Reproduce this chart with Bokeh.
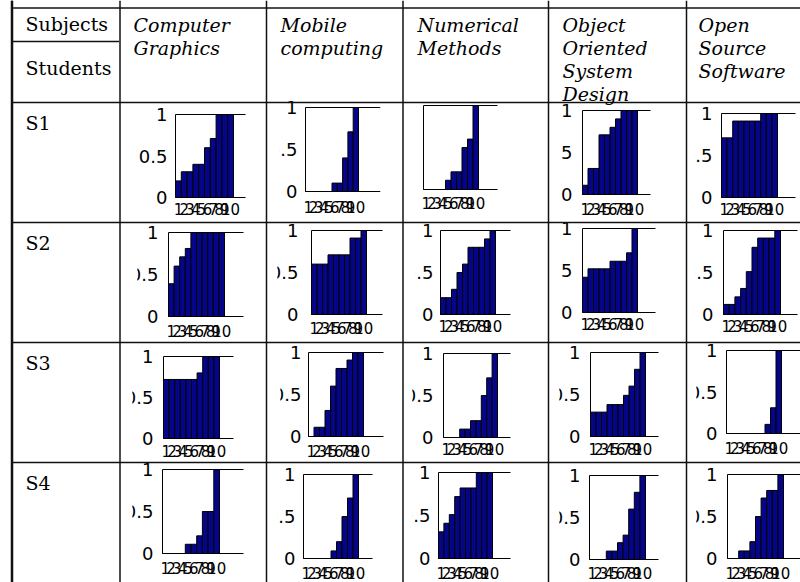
from bokeh.plotting import figure
from bokeh.models import Range1d
from bokeh.core.properties import value
from bokeh.embed import file_html
from bokeh.resources import INLINE

# ---------------- data ----------------
subjects = ["Computer Graphics", "Mobile computing", "Numerical Methods",
            "Object Oriented System Design", "Open Source Software"]
students = ["S1", "S2", "S3", "S4"]
x_ticks = [1, 2, 3, 4, 5, 6, 7, 8, 9, 10]
y_ticks = [0, 0.5, 1]
y_tick_labels = ["0", "0.5", "1"]

s1_cg = [0.2, 0.31, 0.31, 0.4, 0.4, 0.6, 0.71, 1, 1, 1]
s1_mc = [0, 0, 0, 0, 0, 0.1, 0.1, 0.4, 0.71, 1]
s1_nm = [0, 0, 0, 0, 0.11, 0.21, 0.21, 0.5, 0.6, 1]
s1_oosd = [0.11, 0.31, 0.31, 0.71, 0.71, 0.8, 0.9, 1, 1, 1]
s1_oss = [0.71, 0.71, 0.91, 0.91, 0.91, 0.91, 0.91, 1, 1, 1]

s2_cg = [0.39, 0.6, 0.71, 0.81, 1, 1, 1, 1, 1, 1]
s2_mc = [0.6, 0.6, 0.6, 0.71, 0.71, 0.71, 0.71, 0.91, 0.91, 1]
s2_nm = [0.2, 0.2, 0.3, 0.5, 0.6, 0.8, 0.8, 0.8, 0.9, 1]
s2_oosd = [0.42, 0.52, 0.52, 0.52, 0.52, 0.61, 0.61, 0.61, 0.71, 1]
s2_oss = [0.12, 0.12, 0.21, 0.31, 0.51, 0.8, 0.91, 0.91, 0.91, 1]

s3_cg = [0.72, 0.72, 0.72, 0.72, 0.72, 0.72, 0.8, 1, 1, 1]
s3_mc = [0, 0.11, 0.11, 0.31, 0.6, 0.81, 0.81, 0.91, 1, 1]
s3_nm = [0, 0, 0, 0.1, 0.1, 0.2, 0.2, 0.5, 0.71, 1]
s3_oosd = [0.29, 0.29, 0.29, 0.38, 0.38, 0.38, 0.49, 0.6, 0.8, 1]
s3_oss = [0, 0, 0, 0, 0, 0, 0, 0.11, 0.31, 1]

s4_cg = [0, 0, 0, 0, 0.11, 0.11, 0.21, 0.5, 0.5, 1]
s4_mc = [0, 0, 0, 0, 0, 0.09, 0.2, 0.5, 0.72, 1]
s4_nm = [0.31, 0.41, 0.51, 0.72, 0.82, 0.82, 0.82, 1, 1, 1]
s4_oosd = [0, 0, 0, 0.1, 0.1, 0.2, 0.29, 0.6, 0.8, 1]
s4_oss = [0, 0, 0.09, 0.09, 0.2, 0.5, 0.72, 0.81, 0.81, 1]

series = [
    [s1_cg, s1_mc, s1_nm, s1_oosd, s1_oss],
    [s2_cg, s2_mc, s2_nm, s2_oosd, s2_oss],
    [s3_cg, s3_mc, s3_nm, s3_oosd, s3_oss],
    [s4_cg, s4_mc, s4_nm, s4_oosd, s4_oss],
]

# ---------------- layout (page pixels) ----------------
W, H = 800, 582
OX, OY = 0, 0
col_x = [11.5, 119.5, 266, 402.5, 548, 686]
row_y = [7.5, 102, 222, 342, 462]
split_y = 41

# chart boxes: (left, top, bottom, bars_right, line_right, xlabel_y, label_right, crop_kind)
boxes = [
    [(175, 114, 197, 233, 245, 208, 167, None), (305, 107, 191, 358, 380, 206, 297, "dot"),
     (423, 105, 189, 478, 497, 202, 414, "all"), (582, 110, 194, 637, 650, 208, 572, "five"),
     (721, 113, 197, 777, 795, 208, 712, "dot")],
    [(168, 232, 316, 224, 243, 330, 158, "frag"), (311, 230, 314, 366, 382, 327, 298, "frag"),
     (440, 230, 314, 495, 510, 325, 433, "dot"), (582, 228, 312, 637, 655, 323, 572, "five"),
     (723, 230, 314, 780, 797, 325, 713, "dot")],
    [(163, 356, 438, 219, 233, 450, 153, "frag"), (308, 352, 436, 363, 383, 450, 301, "frag"),
     (443, 353, 437, 497, 510, 448, 433, "frag"), (590, 352, 436, 645, 658, 448, 580, "frag"),
     (726, 350, 433, 781, 800, 447, 717, "frag")],
    [(162, 469, 553, 219, 243, 567, 153, "frag"), (303, 474, 558, 358, 372, 572, 295, "dot"),
     (438, 472, 558, 492, 510, 572, 430, "dot"), (589, 475, 559, 645, 658, 572, 580, "frag"),
     (727, 474, 558, 783, 800, 572, 717, "frag")],
]

header_x = [133, 280, 417, 562, 698]
header_base = [24, 47, 70, 93]
student_base = [122, 242, 362, 482]

TICK_FS = 18
DIG = 0.636 * TICK_FS
DOT = 0.318 * TICK_FS
crop_offset = {"five": DIG + 0.5, "dot": DIG + DOT + 0.5, "frag": DIG + DOT + 4, "all": -5}

p = figure(width=W, height=H, x_range=Range1d(OX, OX + W), y_range=Range1d(OY + H, OY),
           toolbar_location=None, output_backend="svg", min_border=0)
p.axis.visible = False
p.grid.visible = False
p.outline_line_color = None
p.background_fill_color = "white"
p.border_fill_color = "white"

BAR = "#05058a"
serif = value("DejaVu Serif")
sans = value("DejaVu Sans")

for r, row in enumerate(series):
    for c, vals in enumerate(row):
        L, T, B, Rb, Rl, xly, lr, kind = boxes[r][c]
        bw = (Rb - L) / 10.0
        xs = 0.5 - (L - OX) / bw
        xn, yn = f"x{r}{c}", f"y{r}{c}"
        p.extra_x_ranges[xn] = Range1d(xs, xs + W / bw)
        s = float(B - T)
        p.extra_y_ranges[yn] = Range1d((B - (OY + H)) / s, (B - OY) / s)
        p.vbar(x=x_ticks, top=vals, bottom=0, width=1, x_range_name=xn, y_range_name=yn,
               fill_color=BAR, line_color="black", line_width=1)
        xe = 0.5 + (Rl - L) / bw
        p.segment(x0=[0.5, 0.5, 0.5], y0=[0, 1, 0], x1=[0.5, xe, xe], y1=[1, 1, 0],
                  x_range_name=xn, y_range_name=yn, line_color="black", line_width=1)
        xl = 0.5 - (L - lr) / bw
        p.text(x=[xl] * 3, y=y_ticks, text=y_tick_labels, x_range_name=xn, y_range_name=yn,
               text_align="right", text_baseline="middle", text_font=sans,
               text_font_size=f"{TICK_FS}px", text_color="black")
        p.text(x=x_ticks, y=[xly] * 10, text=[str(t) for t in x_ticks], x_range_name=xn,
               text_align="center", text_baseline="middle", text_font=sans,
               text_font_size="15px", text_color="black")
        if kind is not None:
            crop = lr - crop_offset[kind]
            p.quad(left=[min(col_x[c + 1] + 1.5, lr - 34)], right=[crop], top=[T - 14],
                   bottom=[B + 10], fill_color="white", line_color=None)

# table lines
p.segment(x0=col_x, y0=[0] * len(col_x), x1=col_x, y1=[600] * len(col_x),
          line_color="#111111", line_width=1.5)
p.segment(x0=[col_x[0]] * len(row_y), y0=row_y, x1=[820] * len(row_y), y1=row_y,
          line_color="#111111", line_width=1.5)
p.segment(x0=[col_x[0]], y0=[split_y], x1=[col_x[1] - 1], y1=[split_y],
          line_color="#111111", line_width=1.5)
p.segment(x0=[col_x[0]], y0=[0], x1=[col_x[0]], y1=[600], line_color="#111111", line_width=2.5)

# header texts
p.text(x=[25, 25], y=[23, 67], text=["Subjects", "Students"], text_font=serif,
       text_font_size="19px", text_baseline="alphabetic", text_color="black")
hx, hy, ht = [], [], []
for c, name in enumerate(subjects):
    for i, word in enumerate(name.split(" ")):
        hx.append(header_x[c]); hy.append(header_base[i]); ht.append(word)
p.text(x=hx, y=hy, text=ht, text_font=serif, text_font_style="italic",
       text_font_size="19px", text_baseline="alphabetic", text_color="black")
p.text(x=[25] * 4, y=student_base, text=students, text_font=serif,
       text_font_size="19px", text_baseline="alphabetic", text_color="black")

open("out.html", "w").write(file_html(p, INLINE))
